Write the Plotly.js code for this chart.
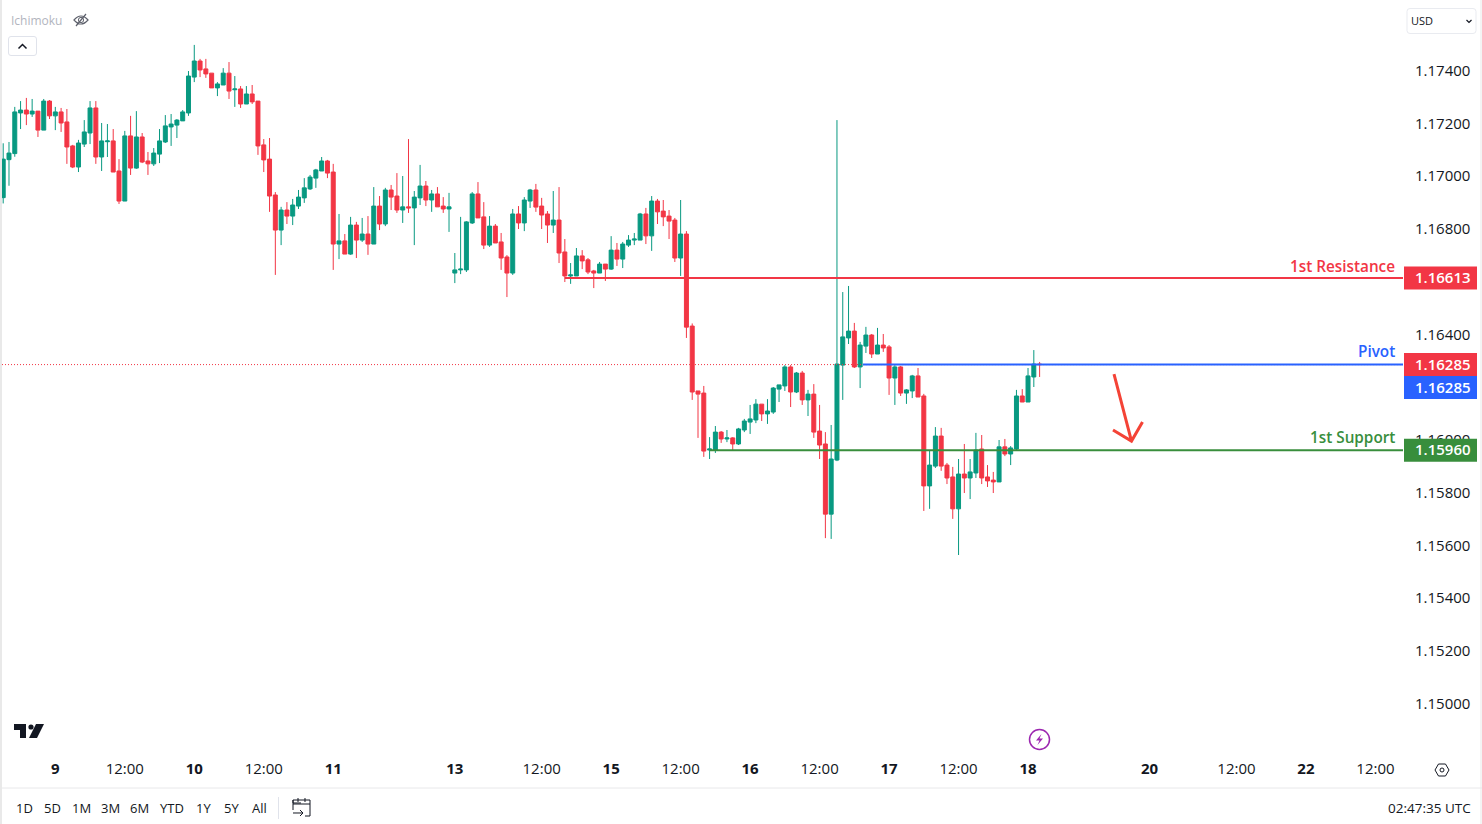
<!DOCTYPE html>
<html><head><meta charset="utf-8">
<style>html,body{margin:0;padding:0;background:#fff;overflow:hidden}#chart{width:1482px;height:824px}</style>
<script src="https://cdn.plot.ly/plotly-3.0.1.min.js"></script>
</head><body><div id="chart"></div>
<script>
const opens=[1.16918,1.17062,1.17085,1.17239,1.17250,1.17235,1.17246,1.17174,1.17284,1.17228,
1.17243,1.17205,1.17114,1.17034,1.17121,1.17163,1.17258,1.17072,1.17130,1.17133,
1.17019,1.16905,1.17152,1.17030,1.17148,1.17057,1.17046,1.17083,1.17129,1.17186,
1.17193,1.17209,1.17239,1.17375,1.17436,1.17406,1.17390,1.17334,1.17345,1.17390,
1.17327,1.17330,1.17273,1.17311,1.17284,1.17118,1.17064,1.16928,1.16795,1.16871,
1.16848,1.16886,1.16917,1.16951,1.16992,1.17019,1.17057,1.17015,1.16742,1.16754,
1.16704,1.16814,1.16757,1.16780,1.16742,1.16886,1.16818,1.16947,1.16924,1.16871,
1.16883,1.16879,1.16917,1.16962,1.16909,1.16932,1.16886,1.16875,1.16632,1.16644,
1.16644,1.16822,1.16932,1.16845,1.16738,1.16810,1.16750,1.16693,1.16632,1.16856,
1.16822,1.16905,1.16947,1.16886,1.16856,1.16814,1.16833,1.16712,1.16621,1.16621,
1.16697,1.16682,1.16640,1.16632,1.16666,1.16647,1.16719,1.16685,1.16738,1.16757,
1.16757,1.16856,1.16773,1.16905,1.16867,1.16848,1.16833,1.16689,1.16780,1.16431,
1.16185,1.16177,1.15961,1.15961,1.16029,1.16003,1.16007,1.15984,1.16037,1.16067,
1.16075,1.16135,1.16098,1.16105,1.16192,1.16204,1.16276,1.16181,1.16253,1.16151,
1.16173,1.16033,1.15984,1.15718,1.15923,1.16283,1.16386,1.16412,1.16276,1.16355,
1.16397,1.16325,1.16359,1.16352,1.16234,1.16276,1.16177,1.16185,1.16242,1.16166,
1.15825,1.15900,1.16014,1.15904,1.15859,1.15738,1.15870,1.15855,1.15874,1.15965,
1.15859,1.15847,1.15840,1.15973,1.15946,1.15965,1.16166,1.16143,1.16238,1.16287];
const closes=[1.17064,1.17087,1.17243,1.17250,1.17235,1.17246,1.17174,1.17284,1.17228,1.17243,
1.17201,1.17110,1.17034,1.17125,1.17167,1.17258,1.17072,1.17133,1.17133,1.17015,
1.16905,1.17152,1.17030,1.17148,1.17053,1.17046,1.17087,1.17133,1.17190,1.17197,
1.17212,1.17243,1.17379,1.17436,1.17402,1.17387,1.17334,1.17349,1.17390,1.17322,
1.17330,1.17273,1.17311,1.17281,1.17114,1.17061,1.16924,1.16795,1.16871,1.16848,
1.16890,1.16920,1.16955,1.16996,1.17023,1.17057,1.17011,1.16742,1.16754,1.16704,
1.16814,1.16757,1.16780,1.16742,1.16886,1.16818,1.16947,1.16920,1.16871,1.16883,
1.16879,1.16920,1.16962,1.16909,1.16932,1.16883,1.16875,1.16883,1.16644,1.16647,
1.16826,1.16932,1.16841,1.16738,1.16810,1.16746,1.16689,1.16632,1.16856,1.16822,
1.16909,1.16947,1.16882,1.16852,1.16814,1.16833,1.16708,1.16621,1.16625,1.16697,
1.16678,1.16636,1.16632,1.16666,1.16647,1.16719,1.16685,1.16742,1.16757,1.16761,
1.16856,1.16773,1.16905,1.16864,1.16845,1.16829,1.16689,1.16780,1.16427,1.16181,
1.16173,1.15957,1.15965,1.16029,1.16003,1.16007,1.15984,1.16041,1.16071,1.16079,
1.16135,1.16098,1.16109,1.16196,1.16208,1.16276,1.16181,1.16253,1.16151,1.16173,
1.16029,1.15980,1.15718,1.15927,1.16287,1.16390,1.16412,1.16276,1.16359,1.16397,
1.16325,1.16359,1.16348,1.16234,1.16276,1.16177,1.16189,1.16242,1.16162,1.15825,
1.15904,1.16014,1.15900,1.15855,1.15738,1.15870,1.15855,1.15878,1.15961,1.15855,
1.15844,1.15840,1.15973,1.15946,1.15969,1.16166,1.16143,1.16242,1.16287,1.16285];
const highs=[1.17124,1.17129,1.17262,1.17284,1.17296,1.17292,1.17246,1.17292,1.17288,1.17262,
1.17258,1.17254,1.17118,1.17137,1.17212,1.17284,1.17284,1.17201,1.17197,1.17178,
1.17064,1.17171,1.17228,1.17246,1.17163,1.17091,1.17106,1.17178,1.17231,1.17235,
1.17216,1.17250,1.17398,1.17497,1.17444,1.17444,1.17390,1.17356,1.17409,1.17432,
1.17379,1.17341,1.17341,1.17345,1.17284,1.17140,1.17144,1.16939,1.16883,1.16901,
1.16913,1.16947,1.16992,1.17004,1.17027,1.17072,1.17061,1.17046,1.16856,1.16780,
1.16845,1.16826,1.16841,1.16848,1.16958,1.16924,1.16955,1.16966,1.17011,1.17000,
1.17140,1.16943,1.17042,1.16981,1.16947,1.16958,1.16920,1.16936,1.16708,1.16845,
1.16829,1.16939,1.16977,1.16901,1.16848,1.16818,1.16784,1.16700,1.16875,1.16886,
1.16920,1.16951,1.16970,1.16917,1.16867,1.16943,1.16958,1.16761,1.16670,1.16727,
1.16719,1.16689,1.16644,1.16674,1.16666,1.16772,1.16746,1.16750,1.16776,1.16784,
1.16860,1.16879,1.16924,1.16913,1.16909,1.16871,1.16841,1.16909,1.16791,1.16441,
1.16185,1.16204,1.16010,1.16052,1.16033,1.16037,1.16010,1.16045,1.16079,1.16132,
1.16154,1.16135,1.16154,1.16200,1.16208,1.16283,1.16283,1.16257,1.16261,1.16189,
1.16211,1.16132,1.16029,1.16056,1.17212,1.16560,1.16583,1.16443,1.16371,1.16428,
1.16401,1.16424,1.16401,1.16359,1.16283,1.16280,1.16192,1.16246,1.16272,1.16174,
1.15961,1.16048,1.16045,1.15912,1.15897,1.15927,1.15984,1.15927,1.16026,1.16018,
1.15904,1.15878,1.15999,1.16003,1.15976,1.16189,1.16192,1.16272,1.16340,1.16295];
const lows=[1.16896,1.16963,1.17073,1.17178,1.17193,1.17224,1.17148,1.17174,1.17216,1.17174,
1.17167,1.17046,1.17030,1.17015,1.17110,1.17121,1.17046,1.17019,1.17072,1.17015,
1.16894,1.16905,1.17004,1.17027,1.17049,1.17004,1.17038,1.17049,1.17125,1.17114,
1.17144,1.17209,1.17228,1.17356,1.17375,1.17372,1.17334,1.17303,1.17345,1.17292,
1.17262,1.17258,1.17273,1.17273,1.17080,1.17015,1.16864,1.16625,1.16738,1.16818,
1.16814,1.16875,1.16898,1.16947,1.16955,1.17019,1.16992,1.16644,1.16685,1.16704,
1.16701,1.16689,1.16750,1.16701,1.16742,1.16795,1.16810,1.16871,1.16860,1.16822,
1.16860,1.16738,1.16890,1.16886,1.16864,1.16883,1.16860,1.16788,1.16594,1.16628,
1.16636,1.16818,1.16841,1.16723,1.16731,1.16746,1.16644,1.16541,1.16625,1.16799,
1.16791,1.16879,1.16864,1.16799,1.16746,1.16784,1.16670,1.16598,1.16591,1.16621,
1.16647,1.16628,1.16575,1.16632,1.16602,1.16644,1.16659,1.16651,1.16731,1.16738,
1.16757,1.16742,1.16716,1.16818,1.16810,1.16761,1.16674,1.16621,1.16386,1.16151,
1.16007,1.15935,1.15927,1.15950,1.15988,1.15991,1.15961,1.15980,1.16029,1.16022,
1.16063,1.16071,1.16060,1.16098,1.16143,1.16185,1.16124,1.16177,1.16132,1.16090,
1.16007,1.15927,1.15627,1.15624,1.15919,1.16151,1.16363,1.16272,1.16196,1.16329,
1.16310,1.16325,1.16333,1.16170,1.16132,1.16166,1.16136,1.16158,1.16162,1.15730,
1.15738,1.15893,1.15882,1.15832,1.15700,1.15563,1.15798,1.15775,1.15855,1.15832,
1.15821,1.15798,1.15840,1.15938,1.15904,1.15961,1.16143,1.16143,1.16200,1.16238];

const timeTickBars=[9,21,33,45,57,78,93,105,117,129,141,153,165,177,198,213,225,237];
const timeTickLabels=['<b>9</b>','12:00','<b>10</b>','12:00','<b>11</b>','<b>13</b>','12:00','<b>15</b>','12:00','<b>16</b>','12:00','<b>17</b>','12:00','<b>18</b>','<b>20</b>','12:00','<b>22</b>','12:00'];
const priceTicks=[1.150,1.152,1.154,1.156,1.158,1.160,1.162,1.164,1.166,1.168,1.170,1.172,1.174];
const levelNames=['1st Resistance','Pivot','1st Support'];
const levelPrices=[1.16613,1.16285,1.15960];
const levelStartBars=[97,148.5,122];
const levelColors=['#f23645','#2962ff','#388e3c'];
const levelNameY=[265.5,351,437.5];
const lastPrice=1.16285;
const rangeButtons=['1D','5D','1M','3M','6M','YTD','1Y','5Y','All'];
const rangeButtonX=[24,52,81,110,139,172,204,231,259];

const FONT='"Open Sans", "Noto Sans", sans-serif';
const W=1482,H=824,L=2,R=79,T=0,B=69,PW=W-L-R,PH=H-T-B;
const X=p=>(p-L)/PW, Y=p=>1-(p-T)/PH;
const bars=opens.map((_,i)=>i);
const px2bar=p=>(p-3.2)/5.79, px2price=p=>1.174-(p-70.5)/26375;

function pxPath(s){return s.replace(/(-?[\d.]+),(-?[\d.]+)/g,(m,a,b)=>X(+a).toFixed(6)+','+Y(+b).toFixed(6));}
function icon(d,color,width,fill){return {type:'path',xref:'paper',yref:'paper',path:pxPath(d),line:{color:color,width:width},fillcolor:fill||'rgba(0,0,0,0)'};}
function circle(cx,cy,r,color,width,fill){return {type:'circle',xref:'paper',yref:'paper',x0:X(cx-r),x1:X(cx+r),y0:Y(cy+r),y1:Y(cy-r),line:{color:color,width:width},fillcolor:fill||'rgba(0,0,0,0)'};}
function rule(x0,y0,x1,y1,color){return {type:'line',xref:'paper',yref:'paper',x0:X(x0),x1:X(x1),y0:Y(y0),y1:Y(y1),line:{color:color,width:1}};}
function label(text,px,py,size,color,anchor,extra){return Object.assign({text:text,xref:'paper',yref:'paper',x:X(px),y:Y(py),xanchor:anchor||'center',yanchor:'middle',showarrow:false,font:{family:FONT,size:size,color:color}},extra||{});}
function arrowPath(pts){return pts.map((s,j)=>s.map((q,k)=>(k?'L':'M')+' '+px2bar(q[0]).toFixed(3)+','+px2price(q[1]).toFixed(5)).join(' ')).join(' ');}
function badgeBox(price,color,shift){const s=shift||0;return {type:'rect',xref:'paper',yref:'y',ysizemode:'pixel',yanchor:price,x0:X(1404),x1:X(1477),y0:-11.5-s,y1:11.5-s,line:{width:0},fillcolor:color};}

const shapes=[];
shapes.push({type:'line',xref:'paper',yref:'y',x0:0,x1:1,y0:lastPrice,y1:lastPrice,line:{color:'#f23645',width:1,dash:'1px,2px'}});
levelPrices.forEach((p,i)=>shapes.push({type:'line',xref:'x',yref:'y',x0:levelStartBars[i],x1:px2bar(1403),y0:p,y1:p,line:{color:levelColors[i],width:2}}));
shapes.push({type:'path',xref:'x',yref:'y',path:arrowPath([[[1114,374],[1131.5,441]],[[1113,430],[1131.5,441],[1142.5,422]]]),line:{color:'#f44336',width:3},fillcolor:'rgba(0,0,0,0)'});
// badges: the axis label under them is hidden just as in the reference
shapes.push(badgeBox(levelPrices[0],levelColors[0]));
shapes.push(badgeBox(lastPrice,'#f23645'));
shapes.push(badgeBox(levelPrices[1],levelColors[1],23));
shapes.push(badgeBox(levelPrices[2],levelColors[2]));
// page furniture
shapes.push({type:'rect',xref:'paper',yref:'paper',x0:X(0),x1:X(2),y0:Y(824),y1:Y(0),line:{width:0},fillcolor:'#e9e9e9'});
shapes.push(rule(1481,0,1481,824,'#e9e9e9'));
shapes.push(rule(2,788,1482,788,'#e8e8ea'));
shapes.push(rule(278.5,797,278.5,819,'#e0e3eb'));
shapes.push(icon('M 11,36.5 L 34,36.5 Q 36.5,36.5 36.5,39 L 36.5,53 Q 36.5,55.5 34,55.5 L 11,55.5 Q 8.5,55.5 8.5,53 L 8.5,39 Q 8.5,36.5 11,36.5 Z','#e0e3eb',1));
shapes.push(icon('M 18.5,48.5 L 22.5,44.5 L 26.5,48.5','#131722',1.5));
shapes.push(icon('M 1410,8.5 L 1473,8.5 Q 1476,8.5 1476,11.5 L 1476,30.5 Q 1476,33.5 1473,33.5 L 1410,33.5 Q 1407,33.5 1407,30.5 L 1407,11.5 Q 1407,8.5 1410,8.5 Z','#e9ebf0',1));
shapes.push(icon('M 1466.5,20 L 1469,22.5 L 1471.5,20','#131722',1.2));
shapes.push(icon('M 74,20 Q 81,12 88,20 Q 81,28 74,20 Z M 76,26 L 86,14','#5d606b',1.2));
shapes.push(circle(81,20,2.6,'#5d606b',1));
shapes.push(icon('M 14,724 L 26,724 L 26,738 L 20,738 L 20,730 L 14,730 Z','#131722',0,'#131722'));
shapes.push(circle(31,727,2.6,'#131722',0,'#131722'));
shapes.push(icon('M 36,724 L 44,724 L 37,738 L 29,738 Z','#131722',0,'#131722'));
shapes.push(circle(1039.5,739.5,10,'#9c27b0',1.5));
shapes.push(icon('M 1041.5,734 L 1036,740.5 L 1039.5,740.5 L 1037.5,745 L 1043,738.5 L 1039.5,738.5 Z','#9c27b0',0,'#9c27b0'));
shapes.push(icon('M 1435,770 L 1438.5,764 L 1445.5,764 L 1449,770 L 1445.5,776 L 1438.5,776 Z','#131722',1));
shapes.push(circle(1442,770,2,'#131722',1));
shapes.push(icon('M 301,803 L 293,803 L 293,800 M 293,800 L 310,800 L 310,812 M 293,800 L 293,810 M 293,804 L 310,804 M 298,798 L 298,802 M 305,798 L 305,802 M 293,813 L 303,813 M 300,810 L 303,813 L 300,816 M 310,812 L 310,816 L 305,816','#131722',1));

const annotations=[];
function badge(text,price,shift){return {text:text,xref:'paper',yref:'y',x:X(1472.5),y:price,xanchor:'right',yanchor:'middle',yshift:(shift||0)+1,showarrow:false,font:{family:FONT,size:15,color:'#ffffff',weight:600}};}
annotations.push(badge(levelPrices[0].toFixed(5),levelPrices[0]));
annotations.push(badge(lastPrice.toFixed(5),lastPrice));
annotations.push(badge(levelPrices[1].toFixed(5),levelPrices[1],-23));
annotations.push(badge(levelPrices[2].toFixed(5),levelPrices[2]));
levelNames.forEach((n,i)=>annotations.push(label(n,1397,levelNameY[i],15.3,levelColors[i],'right',{font:{family:FONT,size:15.3,color:levelColors[i],weight:600}})));
annotations.push(label('Ichimoku',9,20,12,'#b2b5be','left'));
annotations.push(label('USD',1409,20.5,11,'#131722','left'));
rangeButtons.forEach((b,i)=>annotations.push(label(b,rangeButtonX[i],808,13,'#131722')));
annotations.push(label('02:47:35 UTC',1473,808,13.5,'#131722','right'));

const trace={type:'candlestick',x:bars,open:opens,high:highs,low:lows,close:closes,
  increasing:{line:{color:'#089981',width:1},fillcolor:'#089981'},
  decreasing:{line:{color:'#f23645',width:1},fillcolor:'#f23645'},
  whiskerwidth:0,hoverinfo:'skip',showlegend:false};
const layout={width:W,height:H,margin:{l:L,r:R,t:T,b:B,pad:0},paper_bgcolor:'#fff',plot_bgcolor:'#fff',showlegend:false,
  boxgap:0.02,
  font:{family:FONT,color:'#131722'},
  xaxis:{type:'linear',range:[px2bar(2),px2bar(1403)],tickmode:'array',tickvals:timeTickBars,ticktext:timeTickLabels,
    showgrid:false,zeroline:false,showline:false,ticks:'',ticklabelstandoff:3,tickfont:{family:FONT,size:15,color:'#131722'},rangeslider:{visible:false},fixedrange:true},
  yaxis:{side:'right',range:[px2price(755),px2price(0)],tickmode:'array',tickvals:priceTicks,ticktext:priceTicks.map(v=>v.toFixed(5)),
    showgrid:false,zeroline:false,showline:false,ticks:'',ticklabelstandoff:11,tickfont:{family:FONT,size:15,color:'#131722'},fixedrange:true},
  shapes:shapes,annotations:annotations};
Plotly.newPlot('chart',[trace],layout,{displayModeBar:false,staticPlot:true});
</script></body></html>
